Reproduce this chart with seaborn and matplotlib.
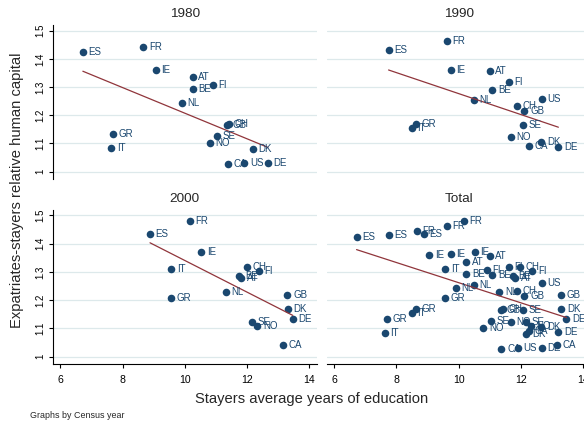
import numpy as np
import pandas as pd
import matplotlib
matplotlib.use('Agg')
import matplotlib.pyplot as plt
import seaborn as sns

# --- dati ---
countries_1980 = ['ES', 'FR', 'IE', 'AT', 'FI', 'BE', 'NL', 'GB', 'CH', 'SE', 'NO',
                  'GR', 'IT', 'DK', 'CA', 'US', 'DE']
educ_1980 = [6.72, 8.67, 9.06, 10.25, 10.91, 10.25, 9.91, 11.36, 11.42, 11.03, 10.80,
             7.70, 7.63, 12.18, 11.38, 11.91, 12.67]
ratio_1980 = [1.425, 1.443, 1.361, 1.335, 1.308, 1.294, 1.242, 1.165, 1.168, 1.125, 1.102,
              1.133, 1.085, 1.080, 1.026, 1.030, 1.030]

countries_1990 = ['ES', 'FR', 'IE', 'AT', 'FI', 'BE', 'NL', 'US', 'CH', 'GB', 'SE',
                  'NO', 'DK', 'CA', 'DE', 'GR', 'IT']
educ_1990 = [7.75, 9.63, 9.75, 11.00, 11.62, 11.09, 10.50, 12.67, 11.89, 12.12, 12.06,
             11.69, 12.66, 12.27, 13.21, 8.63, 8.50]
ratio_1990 = [1.432, 1.462, 1.362, 1.357, 1.318, 1.290, 1.254, 1.259, 1.232, 1.215, 1.165,
              1.123, 1.104, 1.091, 1.089, 1.170, 1.155]

countries_2000 = ['FR', 'ES', 'IE', 'IT', 'GR', 'NL', 'CH', 'FI', 'BE', 'AT', 'GB',
                  'DK', 'DE', 'SE', 'NO', 'CA']
educ_2000 = [10.16, 8.88, 10.53, 9.57, 9.55, 11.31, 11.99, 12.37, 11.75, 11.82, 13.30,
             13.31, 13.47, 12.17, 12.33, 13.15]
ratio_2000 = [1.479, 1.433, 1.369, 1.310, 1.209, 1.228, 1.316, 1.302, 1.287, 1.280, 1.218,
              1.169, 1.135, 1.121, 1.109, 1.043]

panel_titles = ['1980', '1990', '2000', 'Total']
y_ticks = [1, 1.1, 1.2, 1.3, 1.4, 1.5]
y_tick_labels = ['1', '1.1', '1.2', '1.3', '1.4', '1.5']
x_ticks = [6, 8, 10, 12, 14]

NAVY = '#1a476f'
MAROON = '#90353b'
GRID = '#dde9eb'

frames = []
for yr, c, e, r in [('1980', countries_1980, educ_1980, ratio_1980),
                    ('1990', countries_1990, educ_1990, ratio_1990),
                    ('2000', countries_2000, educ_2000, ratio_2000)]:
    frames.append(pd.DataFrame({'country': c, 'educ': e, 'ratio': r, 'year': yr}))
df = pd.concat(frames, ignore_index=True)
df_total = df.assign(year='Total')
df_all = pd.concat([df, df_total], ignore_index=True)

sns.set_theme(style='white')
plt.rcParams['font.family'] = ['Liberation Sans', 'DejaVu Sans']

W, H = 584, 425
fig = plt.figure(figsize=(W / 100, H / 100), dpi=100)

# posizioni in pixel (left, top, right, bottom)
ax_w = 263.7
boxes = {
    '1980': (53.0, 25.1, 53.0 + ax_w, 179.3),
    '1990': (326.7, 25.1, 326.7 + ax_w, 179.3),
    '2000': (53.0, 209.7, 53.0 + ax_w, 364.3),
    'Total': (326.7, 209.7, 326.7 + ax_w, 364.3),
}

for i, title in enumerate(panel_titles):
    l, t, r, b = boxes[title]
    ax = fig.add_axes([l / W, 1 - b / H, (r - l) / W, (b - t) / H])
    d = df_all[df_all['year'] == title]

    sns.scatterplot(data=d, x='educ', y='ratio', ax=ax, color=NAVY, s=30,
                    linewidth=0, zorder=3, legend=False)
    sns.regplot(data=d, x='educ', y='ratio', ax=ax, scatter=False, ci=None,
                truncate=True, color=MAROON, line_kws={'lw': 0.9, 'zorder': 4})
    for _, row in d.iterrows():
        ax.annotate(row['country'], (row['educ'], row['ratio']), xytext=(4, 0),
                    textcoords='offset points', ha='left', va='center',
                    fontsize=7, color=NAVY, zorder=5)

    ax.set_xlim(5.76, 14.24)
    ax.set_ylim(0.973, 1.52)
    ax.set_xticks(x_ticks)
    ax.set_yticks(y_ticks)
    ax.set_yticklabels(y_tick_labels)
    ax.set_xlabel('')
    ax.set_ylabel('')
    ax.yaxis.grid(True, color=GRID, lw=0.9)
    ax.xaxis.grid(False)
    ax.set_axisbelow(True)
    ax.set_title(title, fontsize=9.7, pad=5.5)

    for s in ax.spines.values():
        s.set_visible(False)
        s.set_color('black')
        s.set_linewidth(0.8)

    left_col = i % 2 == 0
    bottom_row = i >= 2
    ax.spines['left'].set_visible(left_col)
    ax.spines['bottom'].set_visible(bottom_row)
    ax.tick_params(axis='y', left=left_col, labelleft=left_col, length=3,
                   width=0.8, pad=2.5, labelsize=7, colors='black')
    ax.tick_params(axis='x', bottom=bottom_row, labelbottom=bottom_row, length=3,
                   width=0.8, pad=4.5, labelsize=7.6, colors='black')
    if left_col:
        plt.setp(ax.get_yticklabels(), rotation=90, va='center')

fig.text(17 / W, 1 - 190 / H, 'Expatriates-stayers relative human capital',
         rotation=90, ha='center', va='center', fontsize=10.6)
fig.text(311.4 / W, 1 - 399 / H, 'Stayers average years of education',
         ha='center', va='center', fontsize=10.6)
fig.text(30 / W, 1 - 415 / H, 'Graphs by Census year', ha='left', va='center',
         fontsize=6.4)

fig.savefig('out.png', dpi=100)
